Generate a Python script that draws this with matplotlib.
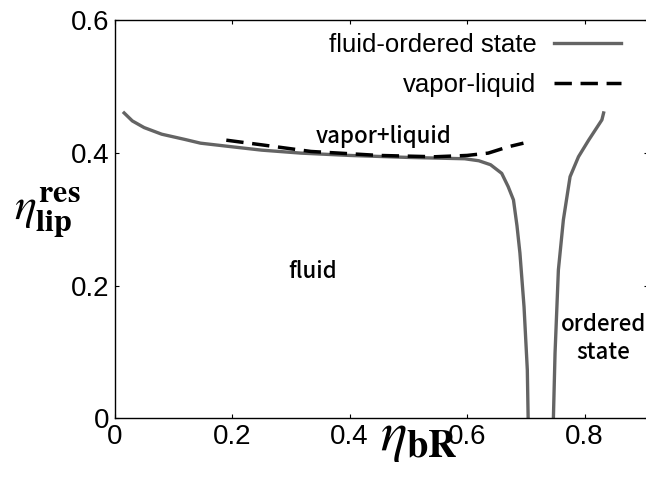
import matplotlib
matplotlib.use("Agg")
import matplotlib.pyplot as plt
import numpy as np

plt.rcParams['mathtext.fontset'] = 'stix'
plt.rcParams['font.family'] = ['Liberation Sans', 'DejaVu Sans']

# fluid-ordered boundary, left branch
fo_left_x = [0.016, 0.03, 0.05, 0.08, 0.12, 0.146, 0.2, 0.25, 0.317, 0.4, 0.5, 0.596,
             0.62, 0.64, 0.659, 0.67, 0.679, 0.685, 0.69, 0.697, 0.7026, 0.704]
fo_left_y = [0.46, 0.448, 0.438, 0.428, 0.42, 0.4145, 0.409, 0.404, 0.3995, 0.396, 0.393, 0.391,
             0.388, 0.382, 0.369, 0.349, 0.329, 0.29, 0.249, 0.168, 0.073, 0.0]
# fluid-ordered boundary, right branch
fo_right_x = [0.747, 0.7498, 0.7555, 0.764, 0.7754, 0.7897, 0.807, 0.8296, 0.8325]
fo_right_y = [0.0, 0.098, 0.2235, 0.299, 0.364, 0.394, 0.419, 0.4496, 0.46]
# vapor-liquid boundary
vl_x = [0.19, 0.25, 0.334, 0.45, 0.5446, 0.6, 0.636, 0.67, 0.696]
vl_y = [0.419, 0.412, 0.402, 0.396, 0.394, 0.396, 0.3995, 0.409, 0.4145]

xticks = [0, 0.2, 0.4, 0.6, 0.8]
xticklabels = ['0', '0.2', '0.4', '0.6', '0.8']
yticks = [0, 0.2, 0.4, 0.6]
yticklabels = ['0', '0.2', '0.4', '0.6']

fig = plt.figure(figsize=(6.46, 4.79), dpi=100)
ax = fig.add_axes([0.1776, 0.1267, 0.8254, 0.8315])

gray = '#646464'
ax.plot(fo_left_x, fo_left_y, color=gray, lw=2.4, label='fluid-ordered state')
ax.plot(fo_right_x, fo_right_y, color=gray, lw=2.4)
ax.plot(vl_x, vl_y, color='black', lw=2.5, dashes=(5, 2.5), label='vapor-liquid')

ax.set_xlim(0, 0.908)
ax.set_ylim(0, 0.6)
ax.set_xticks(xticks)
ax.set_xticklabels(xticklabels)
ax.set_yticks(yticks)
ax.set_yticklabels(yticklabels)
ax.tick_params(direction='in', top=True, right=True, length=3, width=0.8,
               labelsize=20, pad=4)
for s in ax.spines.values():
    s.set_linewidth(1.0)

ax.set_xlabel(r'$\eta_{\mathbf{bR}}$', fontsize=40)
ax.set_ylabel(r'$\eta_{\mathbf{lip}}^{\mathbf{res}}$', fontsize=33, rotation=0)
ax.yaxis.set_label_coords(-0.126, 0.45)
ax.xaxis.set_label_coords(0.5706, 0.0156)

cjk = ['Noto Sans CJK JP', 'DejaVu Sans']
ax.text(0.4578, 0.4244, 'vapor+liquid', family=cjk, fontsize=16, weight='medium',
        ha='center', va='center')
ax.text(0.3368, 0.221, 'fluid', family=cjk, fontsize=16, weight='medium',
        ha='center', va='center')
ax.text(0.8325, 0.12, 'ordered\nstate', family=cjk, fontsize=16, weight='medium',
        ha='center', va='center', linespacing=1.25)

leg = ax.legend(loc='upper right', frameon=False, markerfirst=False, fontsize=18.5,
                handlelength=2.6, handletextpad=0.7, labelspacing=0.61,
                borderaxespad=0.0, borderpad=0.5,
                bbox_to_anchor=(1 - 14 / 533, 1))

fig.savefig('out.png', dpi=100)
